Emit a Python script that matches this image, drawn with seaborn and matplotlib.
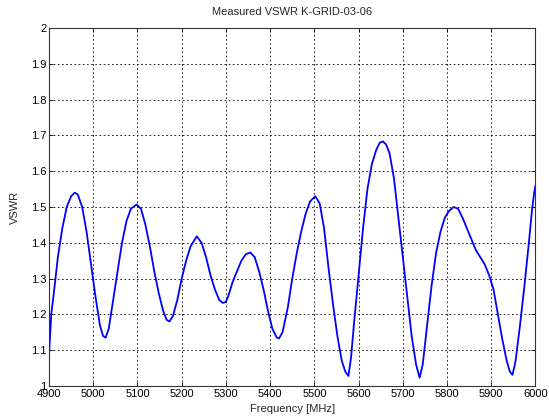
import matplotlib
matplotlib.use("Agg")
import matplotlib.pyplot as plt
import seaborn as sns
import pandas as pd

freq = [4900, 4905, 4910, 4920, 4930, 4940, 4950, 4958, 4965, 4975, 4985, 4995,
        5005, 5015, 5022, 5028, 5035, 5045, 5055, 5065, 5075, 5085, 5098, 5108,
        5118, 5128, 5138, 5148, 5158, 5166, 5172, 5180, 5190, 5200, 5210, 5220,
        5234, 5245, 5255, 5265, 5275, 5285, 5293, 5300, 5305, 5315, 5325, 5335,
        5345, 5355, 5365, 5375, 5385, 5395, 5405, 5415, 5420, 5428, 5440, 5450,
        5460, 5470, 5480, 5490, 5502, 5512, 5522, 5532, 5542, 5552, 5562, 5570,
        5577, 5583, 5590, 5600, 5610, 5620, 5630, 5640, 5648, 5655, 5662, 5670,
        5680, 5690, 5700, 5710, 5720, 5730, 5738, 5745, 5755, 5765, 5775, 5785,
        5795, 5805, 5815, 5825, 5835, 5845, 5855, 5865, 5875, 5885, 5895, 5905,
        5915, 5925, 5935, 5942, 5948, 5955, 5965, 5975, 5985, 5992, 5997, 6000]
vswr = [1.085, 1.20, 1.25, 1.36, 1.44, 1.50, 1.53, 1.54, 1.535, 1.50, 1.43, 1.34,
        1.25, 1.17, 1.14, 1.135, 1.16, 1.24, 1.32, 1.40, 1.46, 1.495, 1.507, 1.495,
        1.45, 1.39, 1.32, 1.26, 1.21, 1.185, 1.18, 1.195, 1.24, 1.30, 1.35, 1.39,
        1.418, 1.40, 1.36, 1.31, 1.27, 1.24, 1.232, 1.235, 1.25, 1.29, 1.32, 1.35,
        1.368, 1.373, 1.36, 1.32, 1.27, 1.21, 1.16, 1.135, 1.133, 1.15, 1.22, 1.30,
        1.37, 1.43, 1.48, 1.515, 1.53, 1.51, 1.44, 1.33, 1.23, 1.14, 1.07, 1.04,
        1.028, 1.08, 1.18, 1.31, 1.44, 1.55, 1.62, 1.66, 1.68, 1.683, 1.675, 1.65,
        1.58, 1.47, 1.36, 1.25, 1.14, 1.06, 1.023, 1.06, 1.17, 1.28, 1.37, 1.43,
        1.47, 1.49, 1.50, 1.495, 1.47, 1.44, 1.41, 1.38, 1.36, 1.34, 1.31, 1.27,
        1.20, 1.13, 1.07, 1.04, 1.031, 1.07, 1.17, 1.28, 1.40, 1.49, 1.54, 1.56]

xticks = [4900, 5000, 5100, 5200, 5300, 5400, 5500, 5600, 5700, 5800, 5900, 6000]
yticks = [1, 1.1, 1.2, 1.3, 1.4, 1.5, 1.6, 1.7, 1.8, 1.9, 2]
ytick_labels = ["1", "1.1", "1.2", "1.3", "1.4", "1.5", "1.6", "1.7", "1.8", "1.9", "2"]

df = pd.DataFrame({"Frequency": freq, "VSWR": vswr})

sns.set_style("white")
plt.rcParams["font.family"] = ["Liberation Sans", "DejaVu Sans"]

fig = plt.figure(figsize=(5.49, 4.19), dpi=100)
ax = fig.add_axes([0.0893, 0.0788, 0.9754 - 0.0893, 0.9332 - 0.0788])

sns.lineplot(data=df, x="Frequency", y="VSWR", ax=ax, color="#0000ff",
             linewidth=1.3, sort=False, estimator=None)

ax.set_xlim(4900, 6000)
ax.set_ylim(1, 2)
ax.set_xticks(xticks)
ax.set_xticklabels([str(t) for t in xticks])
ax.set_yticks(yticks)
ax.set_yticklabels(ytick_labels)
ax.grid(True, color="black", linestyle=(0, (2, 3)), linewidth=0.6)
ax.tick_params(direction="in", length=3, width=0.6, labelsize=8,
               top=True, right=True, bottom=True, left=True, pad=2, colors="black")
for s in ax.spines.values():
    s.set_color("#333333")
    s.set_linewidth(0.8)

ax.set_xlabel("Frequency [MHz]", fontsize=8, labelpad=4)
ax.set_ylabel("VSWR", fontsize=8, labelpad=8)
ax.set_title("Measured VSWR K-GRID-03-06", fontsize=8, pad=9)

fig.savefig("out.png", dpi=100, facecolor="white")
